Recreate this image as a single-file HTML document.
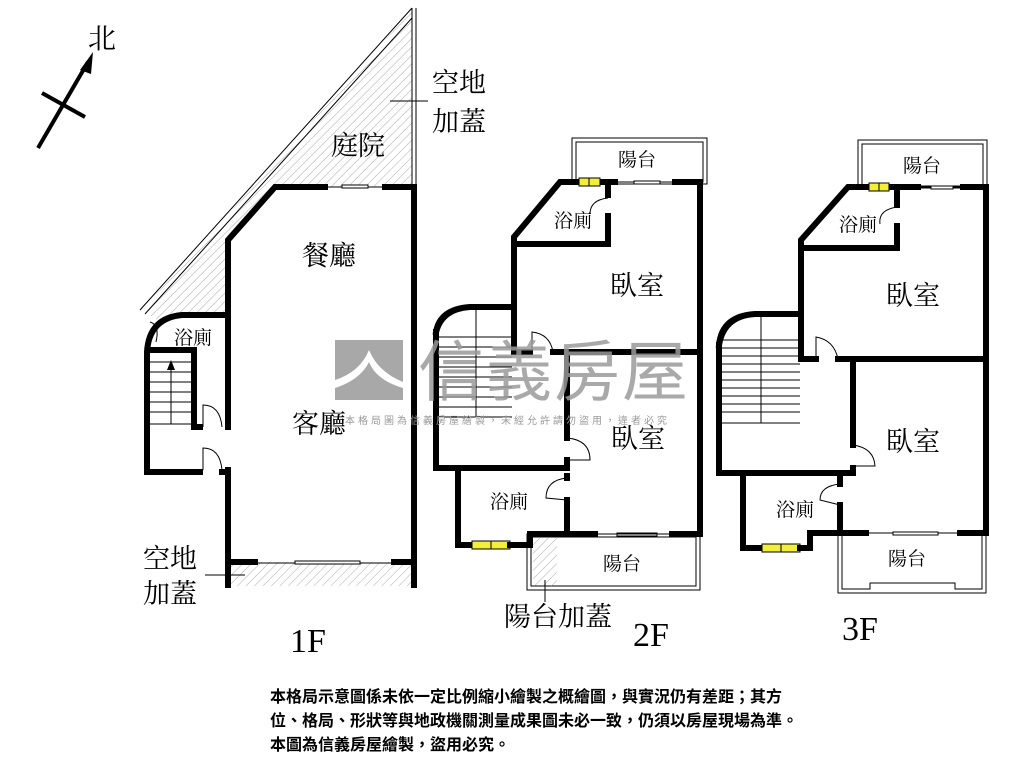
<!DOCTYPE html>
<html><head><meta charset="utf-8"><style>
html,body{margin:0;padding:0;background:#fff;width:1024px;height:768px;overflow:hidden}
svg{display:block}
.t{font-family:"Liberation Serif","Noto Serif CJK SC",serif;fill:#000}
.w{stroke:#000;stroke-width:6;fill:none;stroke-linecap:square}
.th{stroke:#000;stroke-width:1;fill:none}
.win{stroke:#000;stroke-width:1;fill:#fff}
.yel{fill:#f2ee3a;stroke:#000;stroke-width:1}
</style></head><body>
<svg width="1024" height="768" viewBox="0 0 1024 768" xmlns="http://www.w3.org/2000/svg">
<defs>
<pattern id="h" width="6" height="6" patternUnits="userSpaceOnUse" patternTransform="rotate(45)">
<line x1="0" y1="0" x2="0" y2="6" stroke="#999" stroke-width="0.8"/>
</pattern>
</defs>

<!-- North arrow -->
<line x1="38" y1="148" x2="88" y2="62" stroke="#000" stroke-width="4"/>
<polygon points="93,52 80,70 91,74" fill="#000"/>
<line x1="42" y1="93" x2="85" y2="117" stroke="#000" stroke-width="4"/>
<text class="t" x="88" y="48" font-size="28">北</text>

<!-- 1F hatched court -->
<polygon points="412,10 412,187 275,187 227,240 227,315 180,315 160,322 142,310" fill="url(#h)"/>
<line x1="140" y1="310" x2="412" y2="8" stroke="#000" stroke-width="1"/>
<line x1="145" y1="314" x2="412" y2="18" stroke="#000" stroke-width="1"/>
<line x1="412" y1="8" x2="412" y2="187" stroke="#000" stroke-width="1"/>
<line x1="416" y1="8" x2="416" y2="187" stroke="#000" stroke-width="1"/>
<line x1="390" y1="101" x2="428" y2="101" stroke="#000" stroke-width="1"/>
<rect x="228" y="562" width="186" height="24" fill="url(#h)"/>
<line x1="205" y1="575" x2="245" y2="575" stroke="#000" stroke-width="1"/>

<!-- 1F walls -->
<polyline class="w" points="325,187 275,187 228,240 228,427"/>
<polyline class="w" points="385,187 414,187 414,585"/>
<line class="win" x1="325" y1="187" x2="385" y2="187"/>
<rect class="win" x="342" y="185" width="26" height="3"/>
<polyline class="w" points="228,470 228,585"/>
<polyline class="w" points="228,562 255,562"/>
<polyline class="w" points="394,562 414,562"/>
<line class="th" x1="257" y1="563" x2="392" y2="563"/>
<rect class="win" x="295" y="561" width="65" height="3"/>
<path class="w" d="M228,315 L182,315 Q149,318 147,352 L147,472 L200,472"/>
<line class="w" x1="222" y1="472" x2="228" y2="472"/>
<polyline class="w" points="150,350 194,350 194,427 200,427"/>
<path class="th" d="M203,427 L203,405 Q220,405 222,427"/>
<path class="th" d="M203,470 L203,448 Q220,448 222,470"/>
<g stroke="#000" stroke-width="1">
<line x1="150" y1="362" x2="192" y2="362"/><line x1="150" y1="372" x2="192" y2="372"/>
<line x1="150" y1="382" x2="192" y2="382"/><line x1="150" y1="392" x2="192" y2="392"/>
<line x1="150" y1="402" x2="192" y2="402"/><line x1="150" y1="412" x2="192" y2="412"/>
<line x1="150" y1="424" x2="192" y2="424"/>
<line x1="171" y1="424" x2="171" y2="368"/>
</g>
<polygon points="171,360 167,370 175,370" fill="#000"/>
<path class="th" d="M150,322 Q160,325 156,342"/>

<!-- 2F -->
<rect x="572" y="138" width="135" height="46" fill="none" stroke="#000" stroke-width="1"/>
<rect x="576" y="142" width="127" height="40" fill="none" stroke="#000" stroke-width="1"/>
<polyline class="w" points="615,182 560,182 514,237 514,352 530,352"/>
<rect class="yel" x="579" y="178" width="21" height="8"/>
<line x1="589" y1="178" x2="589" y2="186" stroke="#000"/>
<line class="th" x1="615" y1="182" x2="675" y2="182"/>
<rect class="win" x="634" y="181" width="26" height="3"/>
<polyline class="w" points="675,182 700,182 700,534 672,534"/>
<line class="w" x1="608" y1="182" x2="608" y2="195"/>
<polyline class="w" points="608,216 608,244 514,244"/>
<path class="th" d="M608,198 Q590,200 590,214"/>
<line class="w" x1="553" y1="352" x2="700" y2="352"/>
<path class="th" d="M532,352 L532,332 Q550,334 553,352"/>
<polyline class="w" points="567,352 567,438"/>
<path class="th" d="M567,438 Q590,440 590,460 L567,460"/>
<polyline class="w" points="567,460 567,468 436,468 436,332"/>
<path class="w" d="M436,332 Q440,309 470,307 L514,307"/>
<g stroke="#000" stroke-width="1">
<line x1="438" y1="337" x2="512" y2="337"/><line x1="438" y1="347" x2="512" y2="347"/>
<line x1="438" y1="357" x2="512" y2="357"/><line x1="438" y1="367" x2="512" y2="367"/>
<line x1="438" y1="377" x2="512" y2="377"/><line x1="438" y1="387" x2="512" y2="387"/>
<line x1="438" y1="397" x2="512" y2="397"/><line x1="438" y1="407" x2="512" y2="407"/>
<line x1="438" y1="417" x2="512" y2="417"/><line x1="476" y1="310" x2="476" y2="417"/>
</g>
<polyline class="w" points="567,476 567,478"/>
<path class="th" d="M567,478 Q546,480 546,498 L567,500"/>
<polyline class="w" points="567,500 567,534"/>
<polyline class="w" points="458,468 458,545 472,545"/>
<rect class="yel" x="472" y="541" width="38" height="8"/>
<line x1="491" y1="541" x2="491" y2="549" stroke="#000"/>
<polyline class="w" points="510,545 530,545 530,534 595,534"/>
<line class="th" x1="595" y1="534" x2="672" y2="534"/>
<rect class="win" x="617" y="533" width="40" height="3"/>
<rect x="527" y="534" width="173" height="56" fill="none" stroke="#000" stroke-width="1"/>
<rect x="531" y="537" width="165" height="49" fill="none" stroke="#000" stroke-width="1"/>
<rect x="533" y="538" width="24" height="48" fill="url(#h)"/>
<line x1="545" y1="580" x2="545" y2="602" stroke="#000" stroke-width="1"/>

<!-- 3F -->
<rect x="858" y="140" width="129" height="48" fill="none" stroke="#000" stroke-width="1"/>
<rect x="862" y="144" width="121" height="42" fill="none" stroke="#000" stroke-width="1"/>
<polyline class="w" points="918,187 848,187 801,240 801,359 816,359"/>
<rect class="yel" x="869" y="183" width="20" height="8"/>
<line x1="879" y1="183" x2="879" y2="191" stroke="#000"/>
<line class="th" x1="918" y1="187" x2="963" y2="187"/>
<rect class="win" x="931" y="186" width="22" height="3"/>
<polyline class="w" points="963,187 986,187 986,533 960,533"/>
<line class="w" x1="897" y1="187" x2="897" y2="205"/>
<polyline class="w" points="897,226 897,248 801,248"/>
<path class="th" d="M897,207 Q878,210 880,224"/>
<line class="w" x1="838" y1="359" x2="986" y2="359"/>
<path class="th" d="M816,359 L816,337 Q834,340 838,359"/>
<polyline class="w" points="853,359 853,445"/>
<path class="th" d="M853,445 Q874,448 875,466 L853,466"/>
<polyline class="w" points="853,468 853,473 719,473 719,345"/>
<path class="w" d="M719,345 Q722,316 755,314 L801,314"/>
<g stroke="#000" stroke-width="1">
<line x1="722" y1="340" x2="800" y2="340"/><line x1="722" y1="348" x2="800" y2="348"/>
<line x1="722" y1="356" x2="800" y2="356"/><line x1="722" y1="364" x2="800" y2="364"/>
<line x1="722" y1="372" x2="800" y2="372"/><line x1="722" y1="380" x2="800" y2="380"/>
<line x1="722" y1="388" x2="800" y2="388"/><line x1="722" y1="396" x2="800" y2="396"/>
<line x1="722" y1="404" x2="800" y2="404"/><line x1="722" y1="412" x2="800" y2="412"/>
<line x1="722" y1="423" x2="800" y2="423"/><line x1="761" y1="317" x2="761" y2="423"/>
</g>
<line class="w" x1="840" y1="478" x2="840" y2="484"/>
<path class="th" d="M840,484 Q820,486 820,500 L840,505"/>
<polyline class="w" points="840,505 840,533"/>
<polyline class="w" points="743,473 743,548 762,548"/>
<rect class="yel" x="762" y="544" width="38" height="8"/>
<line x1="781" y1="544" x2="781" y2="552" stroke="#000"/>
<polyline class="w" points="800,548 810,548 810,533 866,533"/>
<line class="th" x1="866" y1="533" x2="960" y2="533"/>
<rect class="win" x="893" y="532" width="45" height="3"/>
<path d="M838,533 L838,593 L986,593 L986,533" fill="none" stroke="#000" stroke-width="1"/>
<path d="M842,536 L842,589 L870,589 L870,583 L955,583 L955,589 L982,589 L982,536" fill="none" stroke="#000" stroke-width="1"/>

<!-- watermark -->
<rect x="335" y="340" width="68" height="60" fill="#a8a8a8"/>
<path d="M335,380 Q360,372 369,350 Q378,372 403,382 L403,388 Q376,380 369,362 Q360,380 335,388 Z" fill="#fff"/>
<text x="418" y="395" font-family="'Noto Sans CJK TC',sans-serif" font-size="66" fill="#9a9a9a" fill-opacity="0.85" letter-spacing="2">信義房屋</text>
<text x="345" y="424" font-family="'Noto Sans CJK TC',sans-serif" font-size="10" fill="#999" letter-spacing="3">本格局圖為信義房屋繪製，未經允許請勿盜用，違者必究</text>

<!-- labels -->
<g class="t" font-size="27">
<text x="432" y="92">空地</text><text x="432" y="131">加蓋</text>
<text x="331" y="155">庭院</text>
<text x="302" y="265">餐廳</text>
<text x="292" y="433">客廳</text>
<text x="143" y="568">空地</text><text x="143" y="603">加蓋</text>
<text x="610" y="295">臥室</text>
<text x="611" y="448">臥室</text>
<text x="886" y="305">臥室</text>
<text x="886" y="451">臥室</text>
<text x="504" y="626">陽台加蓋</text>
<text x="290" y="652" font-size="34">1F</text>
<text x="633" y="646" font-size="34">2F</text>
<text x="842" y="640" font-size="34">3F</text>
</g>
<g class="t" font-size="19">
<text x="174" y="344">浴廁</text>
<text x="618" y="166">陽台</text>
<text x="554" y="227">浴廁</text>
<text x="490" y="508">浴廁</text>
<text x="603" y="570">陽台</text>
<text x="903" y="172">陽台</text>
<text x="839" y="231">浴廁</text>
<text x="776" y="516">浴廁</text>
<text x="888" y="565">陽台</text>
</g>
<g font-family="'Liberation Sans','Noto Sans CJK TC',sans-serif" font-size="16" font-weight="bold" fill="#000">
<text x="270" y="702">本格局示意圖係未依一定比例縮小繪製之概繪圖，與實況仍有差距；其方</text>
<text x="270" y="726">位、格局、形狀等與地政機關測量成果圖未必一致，仍須以房屋現場為準。</text>
<text x="270" y="750">本圖為信義房屋繪製，盜用必究。</text>
</g>
</svg>
</body></html>
